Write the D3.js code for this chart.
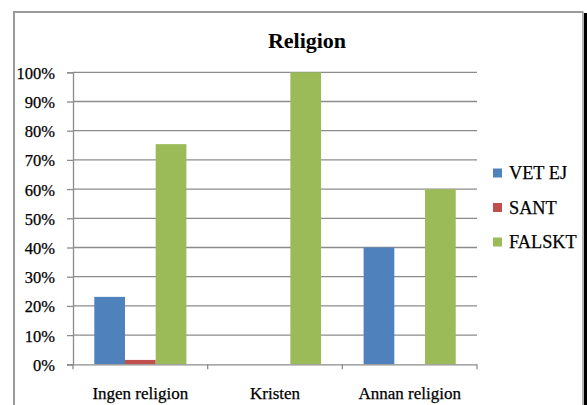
<!DOCTYPE html>
<html><head><meta charset="utf-8">
<script src="https://cdn.jsdelivr.net/npm/d3@7"></script>
<style>html,body{margin:0;padding:0;background:#fff;}svg{display:block;}
svg text{font-family:"Liberation Serif","Times New Roman",Times,serif;}</style>
</head><body>
<svg id="chart" width="587" height="405"></svg>
<script>
const categories = ["Ingen religion", "Kristen", "Annan religion"];
const seriesNames = ["VET EJ", "SANT", "FALSKT"];
const vetEj = [23.1, 0, 40];
const sant = [1.5, 0, 0];
const falskt = [75.4, 100, 60];
const yTicks = [0, 10, 20, 30, 40, 50, 60, 70, 80, 90, 100];
const colors = ["#4F81BD", "#C0504D", "#9BBB59"];
const seriesValues = [vetEj, sant, falskt];

const svg = d3.select("#chart");
const serif = '"Liberation Serif","Times New Roman",Times,serif';

// outer frame
svg.append("line").attr("x1", 14).attr("x2", 14).attr("y1", 11.5).attr("y2", 405).attr("stroke", "#9a9a9a").attr("stroke-width", 2);
svg.append("line").attr("x1", 13).attr("x2", 583).attr("y1", 12).attr("y2", 12).attr("stroke", "#9a9a9a").attr("stroke-width", 2);
svg.append("line").attr("x1", 583).attr("x2", 583).attr("y1", 11.5).attr("y2", 405).attr("stroke", "#9a9a9a").attr("stroke-width", 1.5);
svg.append("rect").attr("x", 584).attr("y", 13).attr("width", 3).attr("height", 392).attr("fill", "#000");

const x0 = d3.scaleBand().domain(categories).range([73, 477]).padding(0);
const bw = x0.bandwidth() * 0.228;
const off = (x0.bandwidth() - 3 * bw) / 2;
const x1 = d3.scaleBand().domain(seriesNames).range([off, x0.bandwidth() - off]).padding(0);
const y = d3.scaleLinear().domain([0, 100]).range([364.3, 72.3]);

// gridlines
svg.append("g").selectAll("line").data(yTicks.filter(d => d > 0)).join("line")
  .attr("x1", 73).attr("x2", 477)
  .attr("y1", d => y(d)).attr("y2", d => y(d))
  .attr("stroke", "#8c8c8c").attr("stroke-width", 1.3);

// y axis
const yAxis = d3.axisLeft(y).tickValues(yTicks).tickFormat(d => d + "%").tickSize(6).tickPadding(12);
const gy = svg.append("g").attr("transform", "translate(73,0)").call(yAxis);
gy.attr("font-family", serif);
gy.select(".domain").attr("stroke", "#8c8c8c").attr("stroke-width", 1.3);
gy.selectAll(".tick line").attr("stroke", "#8c8c8c").attr("stroke-width", 1.3);
gy.selectAll(".tick text").attr("font-size", 16.5).attr("fill", "#000")
  .attr("stroke", "#000").attr("stroke-width", 0.25).attr("dy", "0.36em");

// bars
categories.forEach((c, ci) => {
  seriesNames.forEach((s, si) => {
    const v = seriesValues[si][ci];
    if (v <= 0) return;
    svg.append("rect")
      .attr("x", x0(c) + x1(s)).attr("width", x1.bandwidth())
      .attr("y", y(v)).attr("height", y(0) - y(v))
      .attr("fill", colors[si]);
  });
});

// x axis
const xAxis = d3.axisBottom(x0).tickSize(0).tickPadding(0).tickFormat(() => "");
const gx = svg.append("g").attr("transform", `translate(0,${y(0)})`).call(xAxis);
gx.select(".domain").attr("stroke", "#8c8c8c").attr("stroke-width", 1.3).attr("d", "M67,0.5H477");
const bounds = [73, ...categories.map(c => x0(c) + x0.bandwidth())];
svg.append("g").selectAll("line").data(bounds).join("line")
  .attr("x1", d => d).attr("x2", d => d).attr("y1", y(0)).attr("y2", y(0) + 5)
  .attr("stroke", "#8c8c8c").attr("stroke-width", 1.3);
svg.append("g").selectAll("text").data(categories).join("text")
  .attr("x", d => x0(d) + x0.bandwidth() / 2).attr("y", 399)
  .attr("text-anchor", "middle").attr("font-size", 17)
  .attr("fill", "#000").attr("stroke", "#000").attr("stroke-width", 0.25).text(d => d);

// title
svg.append("text").attr("x", 307).attr("y", 47.5).attr("text-anchor", "middle")
  .attr("font-weight", "bold").attr("font-size", 22)
  .attr("fill", "#000").text("Religion");

// legend
const lg = svg.append("g").selectAll("g").data(seriesNames).join("g")
  .attr("transform", (d, i) => `translate(493,${173 + i * 34.5})`);
lg.append("rect").attr("x", 0).attr("y", -4.5).attr("width", 9).attr("height", 9).attr("fill", (d, i) => colors[i]);
lg.append("text").attr("x", 16).attr("y", 6).attr("font-size", 18.3)
  .attr("fill", "#000").attr("stroke", "#000").attr("stroke-width", 0.25).text(d => d);
</script>
</body></html>
